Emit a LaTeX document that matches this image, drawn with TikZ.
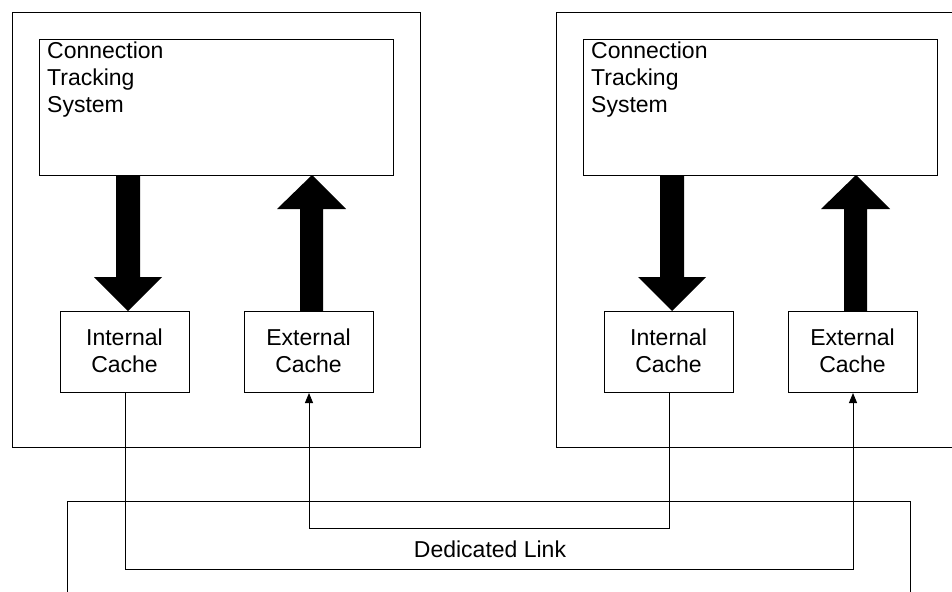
\documentclass[tikz,border=0pt]{standalone}
\usepackage{fontspec}
\setmainfont{Liberation Sans}
\usetikzlibrary{arrows.meta}

\tikzset{
  frame/.style={draw, line width=1pt, inner sep=0pt, anchor=north west},
  txt/.style={inner sep=0pt, font=\fontsize{23}{27}\selectfont},
  bigarrow/.style={fill=black, draw=none},
  link/.style={line width=1pt},
  linkarrow/.style={line width=1pt, -{Triangle[length=10pt,width=8pt]}},
  pics/hostsys/.style={code={
    % enclosing host box and its components
    \node[frame, minimum width=408pt, minimum height=435pt] (-host) at (12,12) {};
    \node[frame, minimum width=354pt, minimum height=136pt] (-cts) at (39,39) {};
    \node[frame, minimum width=129pt, minimum height=81pt] (-int) at (60,311) {};
    \node[frame, minimum width=129pt, minimum height=81pt] (-ext) at (244,311) {};
    \node[txt, anchor=base west] (-t1) at (47,59) {Connection};
    \node[txt, anchor=base west] (-t2) at (47,86) {Tracking};
    \node[txt, anchor=base west] (-t3) at (47,113) {System};
    \node[txt, anchor=base] (-i1) at (124.5,345) {Internal};
    \node[txt, anchor=base] (-i2) at (124.5,372) {Cache};
    \node[txt, anchor=base] (-e1) at (308.5,345) {External};
    \node[txt, anchor=base] (-e2) at (308.5,372) {Cache};
    % wide block arrows between the tracking system and the caches
    \fill[bigarrow] (116,175) -- (140,175) -- (140,277) -- (162,277)
      -- (128,311) -- (94,277) -- (116,277) -- cycle;
    \fill[bigarrow] (300,311) -- (323,311) -- (323,209) -- (346,209)
      -- (312,175) -- (277,209) -- (300,209) -- cycle;
  }}
}

\begin{document}
\begin{tikzpicture}[x=1pt, y=-1pt]
  \clip (0,0) rectangle (952,591);
  \fill[white] (0,0) rectangle (952,591);

  \pic (L) at (0,0) {hostsys};
  \pic (R) at (544,0) {hostsys};

  % open frame of the dedicated link
  \draw[line width=1pt] (67,600) -- (67,501) -- (910,501) -- (910,600);
  \node[txt, anchor=base] (linklbl) at (490,557) {Dedicated Link};

  \coordinate (hiY) at (0,528);
  \coordinate (loY) at (0,569);

  % cross connections between the hosts' caches
  \draw[linkarrow] (R-int.south) -- (R-int.south |- hiY) -| (L-ext.south);
  \draw[linkarrow] (L-int.south) -- (L-int.south |- loY) -| (R-ext.south);
\end{tikzpicture}
\end{document}
